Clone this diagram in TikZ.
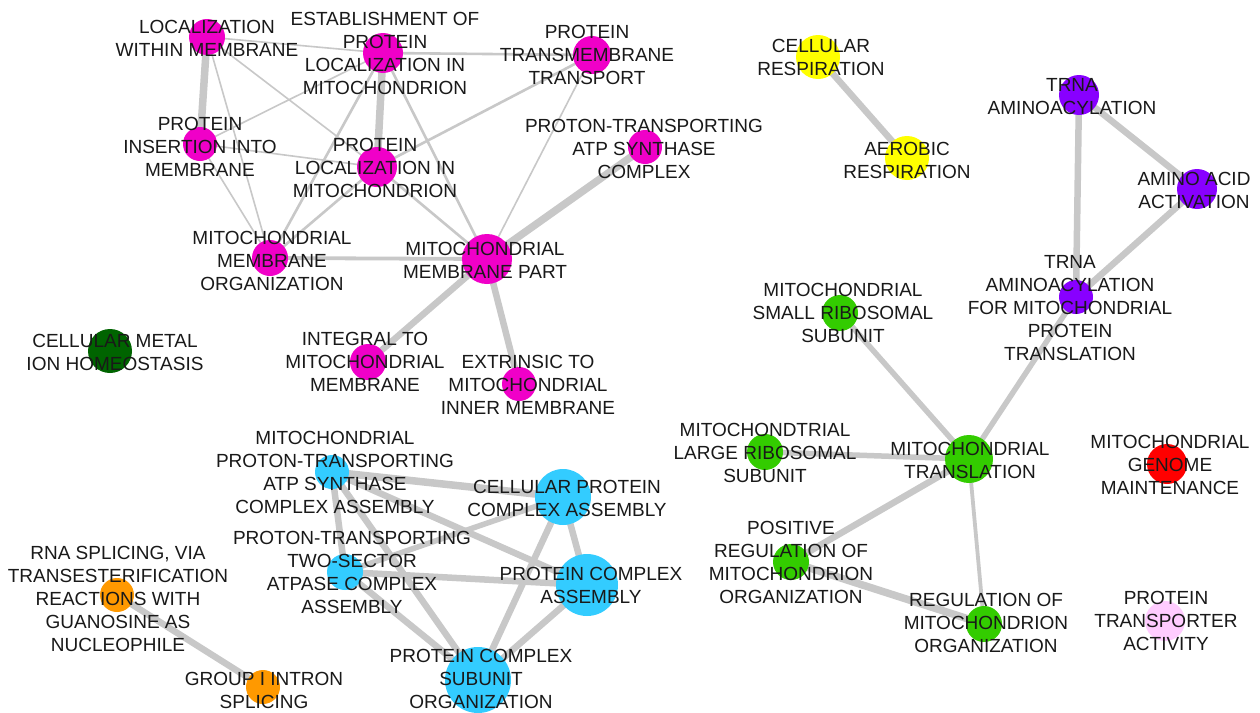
\documentclass[tikz,border=0pt]{standalone}
\usepackage{fontspec}
\setmainfont{Liberation Sans}
\usetikzlibrary{backgrounds}
\definecolor{cmag}{RGB}{240,0,200}
\definecolor{cyel}{RGB}{255,255,0}
\definecolor{cpur}{RGB}{136,0,255}
\definecolor{cgrn}{RGB}{51,204,0}
\definecolor{cdgrn}{RGB}{0,100,0}
\definecolor{cblu}{RGB}{51,204,255}
\definecolor{corg}{RGB}{255,153,0}
\definecolor{cred}{RGB}{255,0,0}
\definecolor{clpk}{RGB}{255,204,255}
\definecolor{cedge}{RGB}{200,200,200}
\tikzset{
  dot/.style={circle,inner sep=0pt,draw=none},
  lbl/.style={inner sep=0pt,align=center,font=\fontsize{19}{23}\selectfont,text=black!90},
  edge/.style={draw=cedge,line cap=butt},
  w1/.style={edge,line width=1.6pt},
  w2/.style={edge,line width=2.6pt},
  w3/.style={edge,line width=3.8pt},
  w4/.style={edge,line width=5.5pt},
  w5/.style={edge,line width=6.5pt},
  w6/.style={edge,line width=7.5pt},
}
\begin{document}
\begin{tikzpicture}[x=1pt,y=-1pt]
\useasboundingbox (0,0) rectangle (1260,712);
% circles
\node[dot,fill=cmag,minimum size=36pt] (LW) at (207,37) {};
\node[dot,fill=cmag,minimum size=40pt] (EP) at (383,53) {};
\node[dot,fill=cmag,minimum size=38pt] (PT) at (592,55) {};
\node[dot,fill=cmag,minimum size=34pt] (PI) at (200,144) {};
\node[dot,fill=cmag,minimum size=40pt] (PL) at (377,167) {};
\node[dot,fill=cmag,minimum size=34pt] (PA) at (645,147) {};
\node[dot,fill=cmag,minimum size=36pt] (MO) at (270,258) {};
\node[dot,fill=cmag,minimum size=50pt] (MP) at (487,259) {};
\node[dot,fill=cmag,minimum size=36pt] (IM) at (368,362) {};
\node[dot,fill=cmag,minimum size=34pt] (EX) at (519,384) {};
\node[dot,fill=cdgrn,minimum size=44pt] (CM) at (110,351) {};
\node[dot,fill=cyel,minimum size=44pt] (CR) at (818,57) {};
\node[dot,fill=cyel,minimum size=44pt] (AR) at (907,158) {};
\node[dot,fill=cpur,minimum size=40pt] (TA) at (1079,95) {};
\node[dot,fill=cpur,minimum size=40pt] (AA) at (1197,189) {};
\node[dot,fill=cpur,minimum size=34pt] (TM) at (1076,297) {};
\node[dot,fill=cgrn,minimum size=36pt] (SS) at (840,313) {};
\node[dot,fill=cgrn,minimum size=36pt] (LR) at (765,452) {};
\node[dot,fill=cgrn,minimum size=48pt] (MT) at (969,459) {};
\node[dot,fill=cred,minimum size=40pt] (GM) at (1167,464) {};
\node[dot,fill=cgrn,minimum size=36pt] (PR) at (791,562) {};
\node[dot,fill=cgrn,minimum size=36pt] (RM) at (984,624) {};
\node[dot,fill=clpk,minimum size=40pt] (PTA) at (1165,621) {};
\node[dot,fill=cblu,minimum size=34pt] (MPA) at (332,472) {};
\node[dot,fill=cblu,minimum size=56pt] (CPA) at (563,497) {};
\node[dot,fill=cblu,minimum size=36pt] (PT2) at (345,572) {};
\node[dot,fill=cblu,minimum size=62pt] (PCA) at (587,585) {};
\node[dot,fill=cblu,minimum size=66pt] (PCS) at (478,680) {};
\node[dot,fill=corg,minimum size=34pt] (RS) at (117,595) {};
\node[dot,fill=corg,minimum size=34pt] (GI) at (263,687) {};
% edges
\begin{pgfonlayer}{background}
\fill[white] (0,0) rectangle (1260,712);
\draw[w1] (LW.center) -- (EP.center);
\draw[w6] (LW.center) -- (PI.center);
\draw[w1] (LW.center) -- (PL.center);
\draw[w1] (LW.center) -- (MO.center);
\draw[w1] (PI.center) -- (EP.center);
\draw[w1] (PI.center) -- (PL.center);
\draw[w1] (PI.center) -- (MO.center);
\draw[w2] (EP.center) -- (PT.center);
\draw[w6] (EP.center) -- (PL.center);
\draw[w2] (EP.center) -- (MO.center);
\draw[w2] (EP.center) -- (MP.center);
\draw[w2] (PT.center) -- (PL.center);
\draw[w1] (PT.center) -- (MP.center);
\draw[w6] (PA.center) -- (MP.center);
\draw[w2] (PL.center) -- (MO.center);
\draw[w2] (PL.center) -- (MP.center);
\draw[w3] (MO.center) -- (MP.center);
\draw[w5] (MP.center) -- (IM.center);
\draw[w5] (MP.center) -- (EX.center);
\draw[w5] (CR.center) -- (AR.center);
\draw[w5] (TA.center) -- (AA.center);
\draw[w5] (TA.center) -- (TM.center);
\draw[w5] (AA.center) -- (TM.center);
\draw[w4] (TM.center) -- (MT.center);
\draw[w4] (SS.center) -- (MT.center);
\draw[w4] (LR.center) -- (MT.center);
\draw[w5] (MT.center) -- (PR.center);
\draw[w3] (MT.center) -- (RM.center);
\draw[w6] (PR.center) -- (RM.center);
\draw[w6] (MPA.center) -- (CPA.center);
\draw[w5] (MPA.center) -- (PT2.center);
\draw[w5] (MPA.center) -- (PCA.center);
\draw[w5] (MPA.center) -- (PCS.center);
\draw[w4] (PT2.center) -- (CPA.center);
\draw[w5] (PT2.center) -- (PCA.center);
\draw[w5] (PT2.center) -- (PCS.center);
\draw[w5] (CPA.center) -- (PCA.center);
\draw[w5] (CPA.center) -- (PCS.center);
\draw[w5] (PCA.center) -- (PCS.center);
\draw[w5] (RS.center) -- (GI.center);
\end{pgfonlayer}
% labels
\node[lbl] (LW-l) at (207,38) {LOCALIZATION\\WITHIN MEMBRANE};
\node[lbl] (EP-l) at (385,53) {ESTABLISHMENT OF\\PROTEIN\\LOCALIZATION IN\\MITOCHONDRION};
\node[lbl] (PT-l) at (587,55) {PROTEIN\\TRANSMEMBRANE\\TRANSPORT};
\node[lbl] (PI-l) at (200,147) {PROTEIN\\INSERTION INTO\\MEMBRANE};
\node[lbl] (PL-l) at (375,168) {PROTEIN\\LOCALIZATION IN\\MITOCHONDRION};
\node[lbl] (PA-l) at (644,149) {PROTON-TRANSPORTING\\ATP SYNTHASE\\COMPLEX};
\node[lbl] (MO-l) at (272,261) {MITOCHONDRIAL\\MEMBRANE\\ORGANIZATION};
\node[lbl] (MP-l) at (485,260) {MITOCHONDRIAL\\MEMBRANE PART};
\node[lbl] (IM-l) at (365,362) {INTEGRAL TO\\MITOCHONDRIAL\\MEMBRANE};
\node[lbl] (EX-l) at (528,385) {EXTRINSIC TO\\MITOCHONDRIAL\\INNER MEMBRANE};
\node[lbl] (CM-l) at (115,352) {CELLULAR METAL\\ION HOMEOSTASIS};
\node[lbl] (CR-l) at (821,57) {CELLULAR\\RESPIRATION};
\node[lbl] (AR-l) at (907,160) {AEROBIC\\RESPIRATION};
\node[lbl] (TA-l) at (1072,97) {TRNA\\AMINOACYLATION};
\node[lbl] (AA-l) at (1194,190) {AMINO ACID\\ACTIVATION};
\node[lbl] (TM-l) at (1070,308) {TRNA\\AMINOACYLATION\\FOR MITOCHONDRIAL\\PROTEIN\\TRANSLATION};
\node[lbl] (SS-l) at (843,313) {MITOCHONDRIAL\\SMALL RIBOSOMAL\\SUBUNIT};
\node[lbl] (LR-l) at (765,453) {MITOCHONDTRIAL\\LARGE RIBOSOMAL\\SUBUNIT};
\node[lbl] (MT-l) at (970,460) {MITOCHONDRIAL\\TRANSLATION};
\node[lbl] (GM-l) at (1170,465) {MITOCHONDRIAL\\GENOME\\MAINTENANCE};
\node[lbl] (PR-l) at (791,562) {POSITIVE\\REGULATION OF\\MITOCHONDRION\\ORGANIZATION};
\node[lbl] (RM-l) at (986,623) {REGULATION OF\\MITOCHONDRION\\ORGANIZATION};
\node[lbl] (PTA-l) at (1166,621) {PROTEIN\\TRANSPORTER\\ACTIVITY};
\node[lbl] (MPA-l) at (335,472) {MITOCHONDRIAL\\PROTON-TRANSPORTING\\ATP SYNTHASE\\COMPLEX ASSEMBLY};
\node[lbl] (CPA-l) at (567,498) {CELLULAR PROTEIN\\COMPLEX ASSEMBLY};
\node[lbl] (PT2-l) at (352,572) {PROTON-TRANSPORTING\\TWO-SECTOR\\ATPASE COMPLEX\\ASSEMBLY};
\node[lbl] (PCA-l) at (591,585) {PROTEIN COMPLEX\\ASSEMBLY};
\node[lbl] (PCS-l) at (481,679) {PROTEIN COMPLEX\\SUBUNIT\\ORGANIZATION};
\node[lbl] (RS-l) at (118,599) {RNA SPLICING, VIA\\TRANSESTERIFICATION\\REACTIONS WITH\\GUANOSINE AS\\NUCLEOPHILE};
\node[lbl] (GI-l) at (264,690) {GROUP I INTRON\\SPLICING};
\end{tikzpicture}
\end{document}
